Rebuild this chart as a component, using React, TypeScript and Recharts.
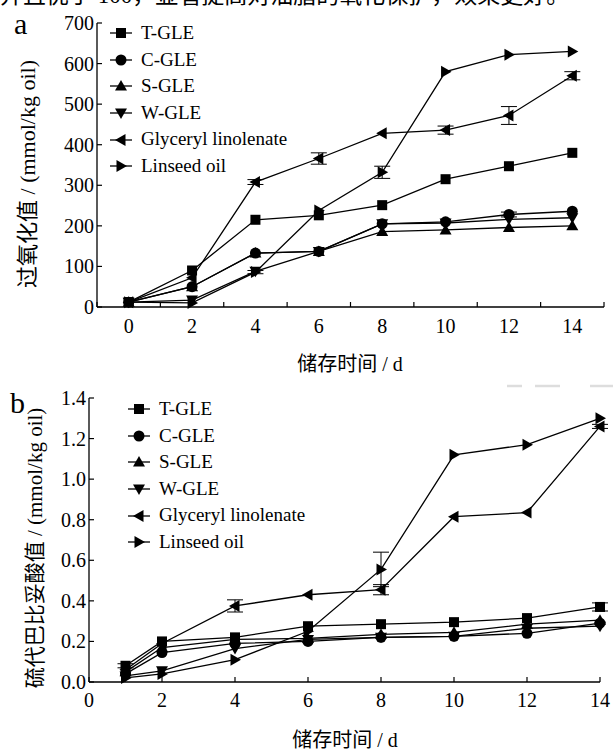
import React from 'react';
import { LineChart, Line, XAxis, YAxis, ErrorBar } from 'recharts';

// panel a: peroxide value
const daysA = [0, 2, 4, 6, 8, 10, 12, 14];
const pvT = [12, 90, 215, 226, 251, 315, 347, 380];
const pvC = [12, 50, 133, 137, 205, 210, 228, 236];
const pvS = [12, 50, 133, 137, 186, 190, 196, 200];
const pvW = [12, 17, 88, 137, 205, 207, 216, 220];
const pvGL = [12, 72, 308, 366, 428, 436, 472, 570];
const pvLO = [12, 10, 86, 238, 332, 580, 622, 630];
const pvErrGL = [0, 0, 6, 14, 0, 10, 22, 10];
const pvErrLO = [0, 0, 4, 0, 15, 0, 0, 0];
const pvErrC = [0, 0, 0, 0, 0, 0, 6, 0];
const ticksA = [-1, 0, 1, 2, 3, 4, 5, 6, 7, 8, 9, 10, 11, 12, 13, 14, 15];
const yTicksA = [0, 100, 200, 300, 400, 500, 600, 700];

// panel b: TBARS
const daysB = [1, 2, 4, 6, 8, 10, 12, 14];
const tbT = [0.08, 0.2, 0.22, 0.275, 0.285, 0.295, 0.315, 0.37];
const tbC = [0.04, 0.145, 0.19, 0.2, 0.22, 0.225, 0.24, 0.29];
const tbS = [0.05, 0.17, 0.21, 0.215, 0.235, 0.245, 0.285, 0.305];
const tbW = [0.03, 0.055, 0.165, 0.21, 0.22, 0.225, 0.265, 0.275];
const tbGL = [0.06, 0.19, 0.375, 0.43, 0.455, 0.815, 0.835, 1.26];
const tbLO = [0.02, 0.04, 0.11, 0.25, 0.555, 1.12, 1.17, 1.3];
const tbErrGL = [0, 0, 0.03, 0, 0.025, 0, 0, 0.01];
const tbErrLO = [0, 0, 0, 0, 0.085, 0, 0, 0];
const tbErrT = [0.01, 0, 0, 0, 0, 0, 0, 0.02];
const ticksB = [0, 2, 4, 6, 8, 10, 12, 14];
const yTicksB = [0, 0.2, 0.4, 0.6, 0.8, 1.0, 1.2, 1.4];

const seriesNames = ['T-GLE', 'C-GLE', 'S-GLE', 'W-GLE', 'Glyceryl linolenate', 'Linseed oil'];
const shapes = ['square', 'circle', 'up', 'down', 'left', 'right'];
const keys = ['t', 'c', 's', 'w', 'gl', 'lo'];

const SERIF = "'Liberation Serif', 'Times New Roman', 'DejaVu Serif', serif";
const MIXED = "'Liberation Serif', 'Times New Roman', 'Noto Sans CJK SC', serif";

const dataA = daysA.map((d, i) => ({
  day: d, t: pvT[i], c: pvC[i], s: pvS[i], w: pvW[i], gl: pvGL[i], lo: pvLO[i],
  glErr: pvErrGL[i], loErr: pvErrLO[i], cErr: pvErrC[i],
}));
const dataB = daysB.map((d, i) => ({
  day: d, t: tbT[i], c: tbC[i], s: tbS[i], w: tbW[i], gl: tbGL[i], lo: tbLO[i],
  glErr: tbErrGL[i], loErr: tbErrLO[i], tErr: tbErrT[i],
}));

const Marker = ({ shape, cx, cy }: { shape: string; cx: number; cy: number }) => {
  const r = 6;
  switch (shape) {
    case 'square':
      return <rect x={cx - 5} y={cy - 5} width={10} height={10} fill="#000" />;
    case 'circle':
      return <circle cx={cx} cy={cy} r={5.5} fill="#000" />;
    case 'up':
      return <polygon points={`${cx},${cy - r} ${cx + r},${cy + r * 0.75} ${cx - r},${cy + r * 0.75}`} fill="#000" />;
    case 'down':
      return <polygon points={`${cx},${cy + r} ${cx + r},${cy - r * 0.75} ${cx - r},${cy - r * 0.75}`} fill="#000" />;
    case 'left':
      return <polygon points={`${cx - r},${cy} ${cx + r * 0.75},${cy - r} ${cx + r * 0.75},${cy + r}`} fill="#000" />;
    default:
      return <polygon points={`${cx + r},${cy} ${cx - r * 0.75},${cy - r} ${cx - r * 0.75},${cy + r}`} fill="#000" />;
  }
};

const dotFor = (shape: string) => (props: any) => (
  <Marker key={`${shape}-${props.index}`} shape={shape} cx={props.cx} cy={props.cy} />
);

// x ticks of panel a: labels on even days, inward tick marks on odd days
const XTickA = (props: any) => {
  const { x, y, payload } = props;
  const v = payload.value;
  if (v % 2 === 0) {
    return <text x={x} y={y + 26} textAnchor="middle" style={{ fontSize: 20, fontFamily: SERIF }} fill="#000">{v}</text>;
  }
  return <line x1={x} y1={y} x2={x} y2={y - 5} stroke="#000" strokeWidth={1.2} />;
};

const XTickB = (props: any) => {
  const { x, y, payload } = props;
  return (
    <g>
      <line x1={x} y1={y} x2={x} y2={y - 5} stroke="#000" strokeWidth={1.2} />
      <text x={x} y={y + 25} textAnchor="middle" style={{ fontSize: 20, fontFamily: SERIF }} fill="#000">{payload.value}</text>
    </g>
  );
};

const YTick = (digits: number) => (props: any) => {
  const { x, y, payload } = props;
  return (
    <g>
      <line x1={x} y1={y} x2={x + 5} y2={y} stroke="#000" strokeWidth={1.2} />
      <text x={x - 3} y={y + 7} textAnchor="end" style={{ fontSize: 20, fontFamily: SERIF }} fill="#000">
        {digits > 0 ? Number(payload.value).toFixed(digits) : payload.value}
      </text>
    </g>
  );
};

const LegendBox = ({ left, top }: { left: number; top: number }) => (
  <div style={{ position: 'absolute', left, top, fontFamily: SERIF, fontSize: 19, lineHeight: '26.6px', color: '#000' }}>
    {seriesNames.map((name, i) => (
      <div key={name} style={{ display: 'flex', alignItems: 'center', whiteSpace: 'nowrap' }}>
        <svg width={28} height={20} style={{ marginRight: 3 }}>
          <line x1={0} y1={10} x2={22} y2={10} stroke="#000" strokeWidth={1.3} />
          <Marker shape={shapes[i]} cx={11} cy={10} />
        </svg>
        <span>{name}</span>
      </div>
    ))}
  </div>
);

const renderLines = (errKeys: Record<string, string>) =>
  keys.map((k, i) => (
    <Line
      key={k}
      dataKey={k}
      stroke="#000"
      strokeWidth={1.3}
      dot={dotFor(shapes[i])}
      activeDot={false}
      isAnimationActive={false}
    >
      {errKeys[k] ? <ErrorBar dataKey={errKeys[k]} width={8} stroke="#000" strokeWidth={1} /> : null}
    </Line>
  ));

export default function App() {
  return (
    <div style={{ position: 'fixed', left: 0, top: 0, width: 613, height: 749, background: '#fff', overflow: 'hidden', fontFamily: MIXED }}>
      <div style={{ position: 'absolute', left: 0, top: -24, fontSize: 23, whiteSpace: 'nowrap', color: '#000' }}>
        并且优于 100，显著提高对油脂的氧化保护，效果更好。
      </div>

      {/* panel a */}
      <div style={{ position: 'absolute', left: 0, top: 0 }}>
        <LineChart width={613} height={360} data={dataA} margin={{ top: 23, right: 9, left: 37, bottom: 13 }}>
          <XAxis
            dataKey="day"
            type="number"
            domain={[-1, 15]}
            ticks={ticksA}
            interval={0}
            tickLine={false}
            tickSize={0}
            tickMargin={0}
            height={40}
            axisLine={{ stroke: '#000', strokeWidth: 1.3 }}
            tick={<XTickA />}
          />
          <YAxis
            type="number"
            domain={[0, 700]}
            ticks={yTicksA}
            interval={0}
            tickLine={false}
            tickSize={0}
            tickMargin={0}
            width={60}
            axisLine={{ stroke: '#000', strokeWidth: 1.3 }}
            tick={YTick(0)}
          />
          {renderLines({ gl: 'glErr', lo: 'loErr', c: 'cErr' })}
        </LineChart>
      </div>
      <div style={{ position: 'absolute', left: 14, top: 9, fontSize: 30, lineHeight: '30px', fontFamily: SERIF }}>a</div>
      <LegendBox left={110} top={20} />
      <div style={{ position: 'absolute', left: 25, top: 174, transform: 'translate(-50%, -50%) rotate(-90deg)', fontSize: 22, whiteSpace: 'nowrap' }}>
        过氧化值 / (mmol/kg oil)
      </div>
      <div style={{ position: 'absolute', left: 350, top: 362, transform: 'translate(-50%, -50%)', fontSize: 20, whiteSpace: 'nowrap' }}>
        储存时间 / d
      </div>

      <svg style={{ position: 'absolute', left: 0, top: 0 }} width={613} height={400}>
        <line x1={507} y1={386} x2={522} y2={386} stroke="#ddd" strokeWidth={2.5} />
        <line x1={535} y1={386} x2={560} y2={386} stroke="#ddd" strokeWidth={2.5} />
        <line x1={590} y1={386} x2={613} y2={386} stroke="#ddd" strokeWidth={2.5} />
      </svg>

      {/* panel b */}
      <div style={{ position: 'absolute', left: 0, top: 360 }}>
        <LineChart width={613} height={389} data={dataB} margin={{ top: 38, right: 13, left: 29, bottom: 27 }}>
          <XAxis
            dataKey="day"
            type="number"
            domain={[0, 14]}
            ticks={ticksB}
            interval={0}
            tickLine={false}
            tickSize={0}
            tickMargin={0}
            height={40}
            axisLine={{ stroke: '#000', strokeWidth: 1.3 }}
            tick={<XTickB />}
          />
          <YAxis
            type="number"
            domain={[0, 1.4]}
            ticks={yTicksB}
            interval={0}
            tickLine={false}
            tickSize={0}
            tickMargin={0}
            width={60}
            axisLine={{ stroke: '#000', strokeWidth: 1.3 }}
            tick={YTick(1)}
          />
          {renderLines({ gl: 'glErr', lo: 'loErr', t: 'tErr' })}
        </LineChart>
      </div>
      <div style={{ position: 'absolute', left: 10, top: 388, fontSize: 30, lineHeight: '30px', fontFamily: SERIF }}>b</div>
      <LegendBox left={128} top={396} />
      <div style={{ position: 'absolute', left: 33, top: 548, transform: 'translate(-50%, -50%) rotate(-90deg)', fontSize: 21, whiteSpace: 'nowrap' }}>
        硫代巴比妥酸值 / (mmol/kg oil)
      </div>
      <div style={{ position: 'absolute', left: 345, top: 738, transform: 'translate(-50%, -50%)', fontSize: 20, whiteSpace: 'nowrap' }}>
        储存时间 / d
      </div>
    </div>
  );
}
